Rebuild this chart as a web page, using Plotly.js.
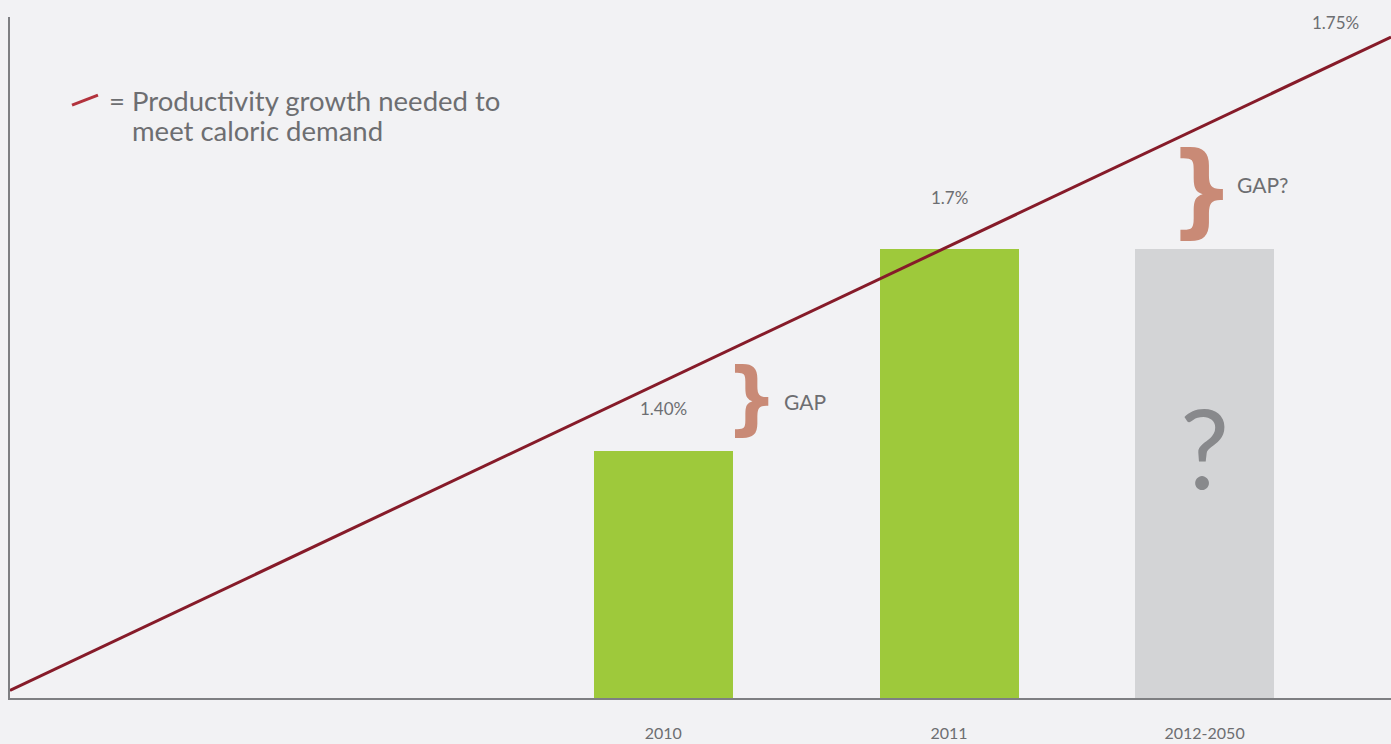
<!DOCTYPE html>
<html>
<head>
<meta charset="utf-8">
<script src="https://cdn.plot.ly/plotly-3.0.1.min.js"></script>
<style>
html,body{margin:0;padding:0;background:#f2f2f4;}
#chart{width:1391px;height:744px;}
</style>
</head>
<body>
<div id="chart"></div>
<script>
// ---- data ----
const categories = ['2010', '2011', '2012-2050'];
const categoryPos = [47.3, 68.0, 86.5];           // position along the horizontal scale (0-100)
const barHeights = [0.655, 1.188, 1.188];        // drawn bar heights on the chart's scale
const barLabels = ['1.40%', '1.7%', ''];
const barColors = ['#9ec93b', '#9ec93b', '#d3d4d6'];
const lineX = [0, 100];
const lineY = [0.02, 1.75];
const lineEndLabel = '1.75%';
const legendText1 = '= Productivity growth needed to';
const legendText2 = 'meet caloric demand';

const FONT = 'Lato, "Open Sans", sans-serif';
const TXT = '#6d6e71';
const BRACE = '#c98a76';
const BRACE_FONT = '"DejaVu Sans Condensed", "DejaVu Sans", sans-serif';

const bars = {
  type: 'bar',
  x: categoryPos,
  y: barHeights,
  width: categoryPos.map(() => 10.07),
  marker: {color: barColors, line: {width: 0}},
  hoverinfo: 'skip',
  showlegend: false
};
const line = {
  type: 'scatter',
  mode: 'lines',
  x: lineX,
  y: lineY,
  line: {color: '#861b29', width: 3},
  hoverinfo: 'skip',
  showlegend: false
};

const labelShift = [30, 39, 0];
const annotations = [];
categories.forEach((c, i) => {
  if (barLabels[i]) {
    annotations.push({
      x: categoryPos[i], y: barHeights[i], xref: 'x', yref: 'y',
      text: barLabels[i], showarrow: false, xanchor: 'center', yanchor: 'bottom', yshift: labelShift[i],
      font: {family: FONT, size: 17, color: TXT}
    });
  }
});
annotations.push(
  {x: lineX[1], y: lineY[1], xref: 'x', yref: 'y', text: lineEndLabel, showarrow: false,
   xanchor: 'center', yanchor: 'middle', xshift: -56, yshift: 15,
   font: {family: FONT, size: 17, color: TXT}},
  // braces and GAP texts
  {x: 0.5366, y: 0.441, xref: 'paper', yref: 'paper', text: '<b>}</b>', showarrow: false,
   xanchor: 'center', yanchor: 'middle',
   font: {family: BRACE_FONT, size: 80, color: BRACE}},
  {x: 0.5757, y: 0.435, xref: 'paper', yref: 'paper', text: 'GAP', showarrow: false,
   xanchor: 'center', yanchor: 'middle',
   font: {family: FONT, size: 21, color: TXT}},
  {x: 0.8631, y: 0.7485, xref: 'paper', yref: 'paper', text: '<b>}</b>', showarrow: false,
   xanchor: 'center', yanchor: 'middle',
   font: {family: BRACE_FONT, size: 102, color: BRACE}},
  {x: 0.9066, y: 0.754, xref: 'paper', yref: 'paper', text: 'GAP?', showarrow: false,
   xanchor: 'center', yanchor: 'middle',
   font: {family: FONT, size: 21, color: TXT}},
  {x: categoryPos[2], y: 0.666, xref: 'x', yref: 'y', text: '?', showarrow: false,
   xanchor: 'center', yanchor: 'middle',
   font: {family: FONT, size: 110, color: '#88898c'}},
  // legend text
  {x: 0.0705, y: 0.878, xref: 'paper', yref: 'paper', text: legendText1, showarrow: false,
   xanchor: 'left', yanchor: 'middle', font: {family: FONT, size: 27.5, color: TXT}},
  {x: 0.0869, y: 0.834, xref: 'paper', yref: 'paper', text: legendText2, showarrow: false,
   xanchor: 'left', yanchor: 'middle', font: {family: FONT, size: 27.5, color: TXT}}
);

const layout = {
  width: 1391, height: 744,
  margin: {l: 10, r: 0, t: 17, b: 46},
  paper_bgcolor: '#f2f2f4',
  plot_bgcolor: '#f2f2f4',
  showlegend: false,
  bargap: 0,
  xaxis: {
    range: [0, 100], showgrid: false, zeroline: false, fixedrange: true,
    showline: true, linecolor: '#7e7f82', linewidth: 2,
    tickvals: categoryPos, ticktext: categories,
    ticks: 'outside', ticklen: 20, tickcolor: 'rgba(0,0,0,0)',
    tickfont: {family: FONT, size: 16, color: TXT}
  },
  yaxis: {
    range: [0, 1.803], showgrid: false, zeroline: false, fixedrange: true,
    showline: true, linecolor: '#7e7f82', linewidth: 2,
    showticklabels: false, ticks: ''
  },
  shapes: [
    {type: 'line', xref: 'paper', yref: 'paper', x0: 0.0449, y0: 0.8706, x1: 0.0637, y1: 0.8853,
     line: {color: '#b2323c', width: 3}}
  ],
  annotations: annotations
};

Plotly.newPlot('chart', [bars, line], layout, {displayModeBar: false, staticPlot: true});
</script>
</body>
</html>
